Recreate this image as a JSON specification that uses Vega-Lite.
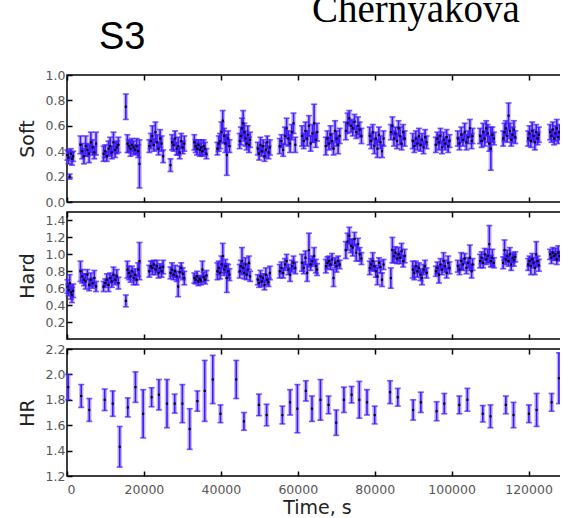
{
  "$schema": "https://vega.github.io/schema/vega-lite/v6.json",
  "background": "white",
  "padding": {"left": 17, "top": -9, "right": -8, "bottom": 0},
  "bounds": "flush",
  "title": {"text": "Chernyakova", "font": "Liberation Serif", "fontSize": 39, "fontWeight": "normal", "color": "#000", "anchor": "start", "frame": "group", "baseline": "alphabetic", "offset": -43, "dx": 245},
  "spacing": 10,
  "datasets": {
    "sh": [
      {"t":100,"s":0.37,"se":0.04,"h":0.62,"he":0.08},
      {"t":400,"s":0.35,"se":0.05,"h":0.58,"he":0.07},
      {"t":700,"s":0.20,"se":0.02,"h":0.66,"he":0.10},
      {"t":1000,"s":0.38,"se":0.04,"h":0.55,"he":0.08},
      {"t":1300,"s":0.34,"se":0.05,"h":0.52,"he":0.09},
      {"t":1600,"s":0.36,"se":0.04,"h":0.57,"he":0.08},
      {"t":3500,"s":0.45,"se":0.07,"h":0.80,"he":0.12},
      {"t":3950,"s":0.40,"se":0.06,"h":0.74,"he":0.08},
      {"t":4400,"s":0.36,"se":0.06,"h":0.70,"he":0.07},
      {"t":4850,"s":0.44,"se":0.08,"h":0.68,"he":0.09},
      {"t":5300,"s":0.41,"se":0.05,"h":0.76,"he":0.06},
      {"t":5750,"s":0.38,"se":0.07,"h":0.64,"he":0.07},
      {"t":6200,"s":0.47,"se":0.08,"h":0.70,"he":0.08},
      {"t":6650,"s":0.43,"se":0.06,"h":0.66,"he":0.06},
      {"t":7100,"s":0.39,"se":0.05,"h":0.72,"he":0.09},
      {"t":7550,"s":0.46,"se":0.09,"h":0.62,"he":0.06},
      {"t":9500,"s":0.38,"se":0.06,"h":0.62,"he":0.06},
      {"t":9930,"s":0.40,"se":0.05,"h":0.66,"he":0.05},
      {"t":10360,"s":0.36,"se":0.04,"h":0.70,"he":0.07},
      {"t":10790,"s":0.42,"se":0.06,"h":0.64,"he":0.08},
      {"t":11220,"s":0.44,"se":0.07,"h":0.72,"he":0.06},
      {"t":11650,"s":0.39,"se":0.05,"h":0.68,"he":0.07},
      {"t":12080,"s":0.47,"se":0.08,"h":0.76,"he":0.09},
      {"t":12510,"s":0.41,"se":0.06,"h":0.70,"he":0.06},
      {"t":12940,"s":0.43,"se":0.05,"h":0.74,"he":0.08},
      {"t":13370,"s":0.45,"se":0.06,"h":0.66,"he":0.07},
      {"t":15300,"s":0.75,"se":0.10,"h":0.45,"he":0.07},
      {"t":15700,"s":0.46,"se":0.07,"h":0.82,"he":0.10},
      {"t":16100,"s":0.44,"se":0.05,"h":0.78,"he":0.08},
      {"t":16500,"s":0.42,"se":0.06,"h":0.74,"he":0.07},
      {"t":16900,"s":0.45,"se":0.05,"h":0.80,"he":0.06},
      {"t":17300,"s":0.43,"se":0.05,"h":0.72,"he":0.08},
      {"t":17700,"s":0.41,"se":0.04,"h":0.76,"he":0.07},
      {"t":18100,"s":0.44,"se":0.06,"h":0.70,"he":0.06},
      {"t":18500,"s":0.40,"se":0.05,"h":0.82,"he":0.08},
      {"t":18850,"s":0.30,"se":0.19,"h":0.92,"he":0.22},
      {"t":21400,"s":0.44,"se":0.05,"h":0.80,"he":0.07},
      {"t":21800,"s":0.48,"se":0.06,"h":0.86,"he":0.06},
      {"t":22200,"s":0.52,"se":0.08,"h":0.84,"he":0.08},
      {"t":22600,"s":0.45,"se":0.05,"h":0.88,"he":0.05},
      {"t":23000,"s":0.55,"se":0.08,"h":0.82,"he":0.06},
      {"t":23400,"s":0.47,"se":0.06,"h":0.86,"he":0.07},
      {"t":23800,"s":0.42,"se":0.05,"h":0.78,"he":0.06},
      {"t":24200,"s":0.50,"se":0.07,"h":0.84,"he":0.05},
      {"t":24600,"s":0.46,"se":0.06,"h":0.80,"he":0.07},
      {"t":25000,"s":0.36,"se":0.05,"h":0.85,"he":0.08},
      {"t":26900,"s":0.29,"se":0.05,"h":0.78,"he":0.07},
      {"t":27300,"s":0.47,"se":0.06,"h":0.82,"he":0.08},
      {"t":27700,"s":0.45,"se":0.05,"h":0.76,"he":0.06},
      {"t":28100,"s":0.50,"se":0.06,"h":0.80,"he":0.07},
      {"t":28500,"s":0.42,"se":0.05,"h":0.74,"he":0.06},
      {"t":28900,"s":0.44,"se":0.07,"h":0.62,"he":0.12},
      {"t":29300,"s":0.39,"se":0.05,"h":0.79,"he":0.07},
      {"t":29700,"s":0.48,"se":0.06,"h":0.84,"he":0.06},
      {"t":30100,"s":0.43,"se":0.05,"h":0.77,"he":0.07},
      {"t":30500,"s":0.46,"se":0.06,"h":0.72,"he":0.08},
      {"t":33100,"s":0.47,"se":0.06,"h":0.72,"he":0.06},
      {"t":33450,"s":0.44,"se":0.05,"h":0.70,"he":0.05},
      {"t":33800,"s":0.42,"se":0.05,"h":0.74,"he":0.06},
      {"t":34150,"s":0.45,"se":0.04,"h":0.68,"he":0.05},
      {"t":34500,"s":0.41,"se":0.05,"h":0.71,"he":0.04},
      {"t":34850,"s":0.43,"se":0.06,"h":0.69,"he":0.05},
      {"t":35200,"s":0.40,"se":0.04,"h":0.82,"he":0.10},
      {"t":35550,"s":0.44,"se":0.05,"h":0.73,"he":0.06},
      {"t":35900,"s":0.42,"se":0.05,"h":0.70,"he":0.05},
      {"t":36250,"s":0.38,"se":0.04,"h":0.75,"he":0.06},
      {"t":39100,"s":0.42,"se":0.05,"h":0.80,"he":0.10},
      {"t":39450,"s":0.46,"se":0.06,"h":0.84,"he":0.08},
      {"t":39800,"s":0.48,"se":0.06,"h":0.78,"he":0.07},
      {"t":40150,"s":0.55,"se":0.08,"h":0.88,"he":0.10},
      {"t":40500,"s":0.64,"se":0.08,"h":0.98,"he":0.15},
      {"t":40850,"s":0.52,"se":0.06,"h":0.82,"he":0.07},
      {"t":41200,"s":0.46,"se":0.07,"h":0.86,"he":0.08},
      {"t":41550,"s":0.37,"se":0.16,"h":0.72,"he":0.17},
      {"t":41900,"s":0.50,"se":0.06,"h":0.80,"he":0.08},
      {"t":42250,"s":0.44,"se":0.05,"h":0.76,"he":0.07},
      {"t":44900,"s":0.48,"se":0.06,"h":0.80,"he":0.08},
      {"t":45200,"s":0.52,"se":0.07,"h":0.86,"he":0.07},
      {"t":45500,"s":0.58,"se":0.08,"h":0.92,"he":0.16},
      {"t":45800,"s":0.62,"se":0.10,"h":0.84,"he":0.06},
      {"t":46100,"s":0.55,"se":0.07,"h":0.78,"he":0.07},
      {"t":46400,"s":0.50,"se":0.06,"h":0.88,"he":0.08},
      {"t":46700,"s":0.46,"se":0.05,"h":0.76,"he":0.06},
      {"t":47000,"s":0.53,"se":0.07,"h":0.82,"he":0.07},
      {"t":47300,"s":0.45,"se":0.06,"h":0.90,"he":0.08},
      {"t":47600,"s":0.49,"se":0.06,"h":0.74,"he":0.06},
      {"t":49600,"s":0.42,"se":0.05,"h":0.70,"he":0.06},
      {"t":49950,"s":0.38,"se":0.05,"h":0.66,"he":0.05},
      {"t":50300,"s":0.45,"se":0.06,"h":0.74,"he":0.07},
      {"t":50650,"s":0.40,"se":0.04,"h":0.68,"he":0.06},
      {"t":51000,"s":0.44,"se":0.05,"h":0.72,"he":0.05},
      {"t":51350,"s":0.36,"se":0.04,"h":0.64,"he":0.06},
      {"t":51700,"s":0.41,"se":0.06,"h":0.76,"he":0.08},
      {"t":52050,"s":0.47,"se":0.05,"h":0.70,"he":0.06},
      {"t":52400,"s":0.39,"se":0.05,"h":0.67,"he":0.05},
      {"t":52750,"s":0.43,"se":0.06,"h":0.78,"he":0.08},
      {"t":55300,"s":0.44,"se":0.06,"h":0.80,"he":0.08},
      {"t":55750,"s":0.48,"se":0.05,"h":0.84,"he":0.07},
      {"t":56200,"s":0.41,"se":0.05,"h":0.78,"he":0.06},
      {"t":56650,"s":0.52,"se":0.07,"h":0.88,"he":0.07},
      {"t":57100,"s":0.58,"se":0.08,"h":0.92,"he":0.08},
      {"t":57550,"s":0.50,"se":0.06,"h":0.82,"he":0.06},
      {"t":58000,"s":0.46,"se":0.07,"h":0.76,"he":0.08},
      {"t":58450,"s":0.55,"se":0.06,"h":0.86,"he":0.07},
      {"t":58900,"s":0.62,"se":0.08,"h":0.90,"he":0.08},
      {"t":59350,"s":0.45,"se":0.06,"h":0.84,"he":0.07},
      {"t":61100,"s":0.52,"se":0.08,"h":0.90,"he":0.10},
      {"t":61550,"s":0.48,"se":0.06,"h":0.84,"he":0.07},
      {"t":62000,"s":0.56,"se":0.07,"h":0.96,"he":0.08},
      {"t":62450,"s":0.50,"se":0.06,"h":0.78,"he":0.10},
      {"t":62900,"s":0.60,"se":0.08,"h":1.05,"he":0.20},
      {"t":63350,"s":0.46,"se":0.06,"h":0.88,"he":0.07},
      {"t":63800,"s":0.54,"se":0.07,"h":0.92,"he":0.06},
      {"t":64250,"s":0.62,"se":0.15,"h":0.98,"he":0.10},
      {"t":64700,"s":0.49,"se":0.06,"h":0.86,"he":0.08},
      {"t":65000,"s":0.55,"se":0.07,"h":0.82,"he":0.07},
      {"t":67300,"s":0.44,"se":0.07,"h":0.86,"he":0.08},
      {"t":67700,"s":0.50,"se":0.06,"h":0.90,"he":0.07},
      {"t":68100,"s":0.46,"se":0.05,"h":0.92,"he":0.06},
      {"t":68500,"s":0.53,"se":0.07,"h":0.88,"he":0.06},
      {"t":68900,"s":0.48,"se":0.06,"h":0.94,"he":0.07},
      {"t":69300,"s":0.42,"se":0.05,"h":0.72,"he":0.10},
      {"t":69700,"s":0.56,"se":0.08,"h":0.90,"he":0.06},
      {"t":70100,"s":0.50,"se":0.06,"h":0.86,"he":0.07},
      {"t":70500,"s":0.45,"se":0.07,"h":0.92,"he":0.06},
      {"t":70900,"s":0.52,"se":0.06,"h":0.88,"he":0.05},
      {"t":72500,"s":0.56,"se":0.07,"h":1.05,"he":0.10},
      {"t":72950,"s":0.62,"se":0.08,"h":1.15,"he":0.10},
      {"t":73400,"s":0.66,"se":0.06,"h":1.22,"he":0.10},
      {"t":73850,"s":0.60,"se":0.05,"h":1.10,"he":0.08},
      {"t":74300,"s":0.58,"se":0.06,"h":1.08,"he":0.10},
      {"t":74750,"s":0.63,"se":0.06,"h":1.18,"he":0.08},
      {"t":75200,"s":0.55,"se":0.05,"h":1.02,"he":0.10},
      {"t":75650,"s":0.60,"se":0.07,"h":1.12,"he":0.07},
      {"t":76100,"s":0.57,"se":0.06,"h":1.00,"he":0.08},
      {"t":76550,"s":0.52,"se":0.06,"h":0.95,"he":0.07},
      {"t":78700,"s":0.52,"se":0.07,"h":0.84,"he":0.08},
      {"t":79100,"s":0.48,"se":0.06,"h":0.88,"he":0.07},
      {"t":79500,"s":0.55,"se":0.06,"h":0.92,"he":0.10},
      {"t":79900,"s":0.44,"se":0.06,"h":0.86,"he":0.06},
      {"t":80300,"s":0.50,"se":0.05,"h":0.80,"he":0.07},
      {"t":80700,"s":0.42,"se":0.07,"h":0.74,"he":0.10},
      {"t":81100,"s":0.53,"se":0.06,"h":0.90,"he":0.06},
      {"t":81500,"s":0.47,"se":0.05,"h":0.85,"he":0.07},
      {"t":81900,"s":0.40,"se":0.05,"h":0.70,"he":0.08},
      {"t":82300,"s":0.50,"se":0.06,"h":0.88,"he":0.06},
      {"t":84200,"s":0.55,"se":0.06,"h":0.72,"he":0.12},
      {"t":84600,"s":0.60,"se":0.07,"h":1.05,"he":0.15},
      {"t":85000,"s":0.50,"se":0.06,"h":0.98,"he":0.08},
      {"t":85400,"s":0.54,"se":0.05,"h":1.02,"he":0.07},
      {"t":85800,"s":0.48,"se":0.06,"h":0.95,"he":0.06},
      {"t":86200,"s":0.58,"se":0.06,"h":1.00,"he":0.08},
      {"t":86600,"s":0.52,"se":0.07,"h":0.96,"he":0.07},
      {"t":87000,"s":0.46,"se":0.05,"h":1.04,"he":0.09},
      {"t":87400,"s":0.55,"se":0.06,"h":0.92,"he":0.07},
      {"t":87800,"s":0.50,"se":0.06,"h":0.98,"he":0.08},
      {"t":89900,"s":0.48,"se":0.06,"h":0.82,"he":0.10},
      {"t":90300,"s":0.44,"se":0.05,"h":0.78,"he":0.08},
      {"t":90700,"s":0.50,"se":0.06,"h":0.86,"he":0.06},
      {"t":91100,"s":0.46,"se":0.05,"h":0.80,"he":0.07},
      {"t":91500,"s":0.52,"se":0.06,"h":0.84,"he":0.06},
      {"t":91900,"s":0.45,"se":0.05,"h":0.76,"he":0.07},
      {"t":92300,"s":0.49,"se":0.05,"h":0.72,"he":0.08},
      {"t":92700,"s":0.43,"se":0.05,"h":0.82,"he":0.06},
      {"t":93100,"s":0.51,"se":0.06,"h":0.86,"he":0.07},
      {"t":93500,"s":0.47,"se":0.05,"h":0.78,"he":0.06},
      {"t":95900,"s":0.45,"se":0.06,"h":0.80,"he":0.06},
      {"t":96300,"s":0.50,"se":0.05,"h":0.84,"he":0.07},
      {"t":96700,"s":0.47,"se":0.06,"h":0.76,"he":0.10},
      {"t":97100,"s":0.52,"se":0.06,"h":0.88,"he":0.07},
      {"t":97500,"s":0.43,"se":0.05,"h":0.82,"he":0.06},
      {"t":97900,"s":0.49,"se":0.06,"h":0.92,"he":0.10},
      {"t":98300,"s":0.46,"se":0.05,"h":0.86,"he":0.07},
      {"t":98700,"s":0.51,"se":0.06,"h":0.78,"he":0.06},
      {"t":99100,"s":0.44,"se":0.05,"h":0.90,"he":0.08},
      {"t":99450,"s":0.48,"se":0.05,"h":0.84,"he":0.07},
      {"t":101600,"s":0.50,"se":0.06,"h":0.86,"he":0.07},
      {"t":102050,"s":0.46,"se":0.05,"h":0.82,"he":0.06},
      {"t":102500,"s":0.53,"se":0.06,"h":0.92,"he":0.10},
      {"t":102950,"s":0.49,"se":0.05,"h":0.88,"he":0.07},
      {"t":103400,"s":0.55,"se":0.07,"h":0.95,"he":0.06},
      {"t":103850,"s":0.47,"se":0.06,"h":0.84,"he":0.07},
      {"t":104300,"s":0.51,"se":0.05,"h":0.90,"he":0.06},
      {"t":104750,"s":0.58,"se":0.07,"h":0.96,"he":0.15},
      {"t":105200,"s":0.48,"se":0.06,"h":0.80,"he":0.08},
      {"t":105450,"s":0.52,"se":0.06,"h":0.88,"he":0.07},
      {"t":107400,"s":0.52,"se":0.06,"h":0.92,"he":0.08},
      {"t":107800,"s":0.48,"se":0.05,"h":0.96,"he":0.07},
      {"t":108200,"s":0.55,"se":0.07,"h":0.90,"he":0.06},
      {"t":108600,"s":0.50,"se":0.06,"h":1.00,"he":0.07},
      {"t":109000,"s":0.58,"se":0.06,"h":0.94,"he":0.06},
      {"t":109400,"s":0.54,"se":0.07,"h":0.98,"he":0.08},
      {"t":109800,"s":0.46,"se":0.06,"h":1.12,"he":0.22},
      {"t":110200,"s":0.42,"se":0.17,"h":0.92,"he":0.07},
      {"t":110600,"s":0.53,"se":0.06,"h":0.96,"he":0.10},
      {"t":111000,"s":0.50,"se":0.05,"h":0.90,"he":0.06},
      {"t":113400,"s":0.50,"se":0.06,"h":0.90,"he":0.07},
      {"t":113750,"s":0.55,"se":0.07,"h":1.05,"he":0.12},
      {"t":114100,"s":0.58,"se":0.06,"h":0.94,"he":0.06},
      {"t":114450,"s":0.52,"se":0.05,"h":0.98,"he":0.07},
      {"t":114800,"s":0.68,"se":0.10,"h":0.92,"he":0.06},
      {"t":115150,"s":0.56,"se":0.06,"h":1.00,"he":0.08},
      {"t":115500,"s":0.49,"se":0.05,"h":0.88,"he":0.07},
      {"t":115850,"s":0.53,"se":0.06,"h":0.96,"he":0.06},
      {"t":116200,"s":0.57,"se":0.07,"h":0.93,"he":0.07},
      {"t":116550,"s":0.51,"se":0.05,"h":0.97,"he":0.06},
      {"t":119900,"s":0.50,"se":0.06,"h":0.88,"he":0.07},
      {"t":120250,"s":0.54,"se":0.06,"h":0.92,"he":0.06},
      {"t":120600,"s":0.48,"se":0.05,"h":0.86,"he":0.10},
      {"t":120950,"s":0.56,"se":0.07,"h":0.94,"he":0.07},
      {"t":121300,"s":0.52,"se":0.05,"h":0.90,"he":0.06},
      {"t":121650,"s":0.47,"se":0.06,"h":0.84,"he":0.08},
      {"t":122000,"s":0.55,"se":0.06,"h":1.00,"he":0.15},
      {"t":122350,"s":0.50,"se":0.05,"h":0.92,"he":0.06},
      {"t":122700,"s":0.53,"se":0.06,"h":0.87,"he":0.07},
      {"t":125600,"s":0.55,"se":0.06,"h":1.00,"he":0.06},
      {"t":125950,"s":0.52,"se":0.05,"h":0.96,"he":0.07},
      {"t":126300,"s":0.57,"se":0.06,"h":1.02,"he":0.06},
      {"t":126650,"s":0.50,"se":0.05,"h":0.98,"he":0.05},
      {"t":127000,"s":0.54,"se":0.06,"h":1.00,"he":0.07},
      {"t":127350,"s":0.58,"se":0.07,"h":0.94,"he":0.06},
      {"t":127700,"s":0.51,"se":0.05,"h":1.02,"he":0.08},
      {"t":128050,"s":0.55,"se":0.06,"h":0.98,"he":0.06}
    ],
    "hr": [
      {"t":300,"r":1.90,"e":0.10},
      {"t":3700,"r":1.83,"e":0.09},
      {"t":5800,"r":1.72,"e":0.09},
      {"t":9800,"r":1.80,"e":0.085},
      {"t":11900,"r":1.77,"e":0.10},
      {"t":13700,"r":1.43,"e":0.16},
      {"t":15800,"r":1.74,"e":0.075},
      {"t":17800,"r":1.90,"e":0.12},
      {"t":19800,"r":1.69,"e":0.19},
      {"t":22000,"r":1.82,"e":0.075},
      {"t":23900,"r":1.84,"e":0.12},
      {"t":26000,"r":1.77,"e":0.19},
      {"t":28000,"r":1.77,"e":0.075},
      {"t":30000,"r":1.77,"e":0.15},
      {"t":31900,"r":1.57,"e":0.16},
      {"t":33900,"r":1.79,"e":0.08},
      {"t":35800,"r":1.87,"e":0.24},
      {"t":37900,"r":1.96,"e":0.19},
      {"t":39900,"r":1.69,"e":0.07},
      {"t":44000,"r":1.96,"e":0.15},
      {"t":46000,"r":1.63,"e":0.07},
      {"t":49900,"r":1.76,"e":0.085},
      {"t":51900,"r":1.68,"e":0.085},
      {"t":56000,"r":1.68,"e":0.07},
      {"t":58000,"r":1.78,"e":0.10},
      {"t":59900,"r":1.73,"e":0.19},
      {"t":62100,"r":1.87,"e":0.08},
      {"t":63700,"r":1.73,"e":0.10},
      {"t":65900,"r":1.80,"e":0.16},
      {"t":68000,"r":1.76,"e":0.07},
      {"t":70000,"r":1.62,"e":0.10},
      {"t":72000,"r":1.80,"e":0.10},
      {"t":74000,"r":1.84,"e":0.065},
      {"t":76000,"r":1.80,"e":0.145},
      {"t":78000,"r":1.78,"e":0.10},
      {"t":80000,"r":1.68,"e":0.07},
      {"t":84000,"r":1.86,"e":0.09},
      {"t":86000,"r":1.82,"e":0.07},
      {"t":90000,"r":1.72,"e":0.08},
      {"t":92000,"r":1.78,"e":0.08},
      {"t":96100,"r":1.71,"e":0.075},
      {"t":98100,"r":1.77,"e":0.08},
      {"t":102000,"r":1.76,"e":0.07},
      {"t":104100,"r":1.80,"e":0.09},
      {"t":108100,"r":1.69,"e":0.065},
      {"t":110100,"r":1.67,"e":0.09},
      {"t":114100,"r":1.76,"e":0.07},
      {"t":116100,"r":1.68,"e":0.10},
      {"t":120100,"r":1.69,"e":0.07},
      {"t":122100,"r":1.72,"e":0.13},
      {"t":126000,"r":1.78,"e":0.07},
      {"t":127900,"r":1.97,"e":0.20}
    ]
  },
  "vconcat": [
    {
      "data": {"name": "sh"},
      "width": 500,
      "height": 127,
      "title": {"text": "S3", "font": "Liberation Sans", "fontSize": 38, "fontWeight": "normal", "color": "#000", "anchor": "start", "frame": "group", "baseline": "alphabetic", "offset": -18, "dx": 32},
      "layer": [
        {
          "mark": {"type": "errorbar", "color": "#8f74ff", "opacity": 0.55, "thickness": 4.5, "ticks": false},
          "encoding": {
            "x": {"field": "t", "type": "quantitative", "scale": {"domain": [0, 130000], "nice": false}, "axis": {"orient": "bottom", "values": [0, 20000, 40000, 60000, 80000, 100000, 120000], "labels": false, "title": null}},
            "y": {"field": "s", "type": "quantitative", "title": "Soft", "scale": {"domain": [0, 1], "nice": false}, "axis": {"title": "Soft", "values": [0, 0.2, 0.4, 0.6, 0.8, 1.0], "format": ".1f", "labelOverlap": false, "labelSeparation": 0}},
            "yError": {"field": "se"}
          }
        },
        {
          "mark": {"type": "errorbar", "color": "#4018ff", "thickness": 1.6, "ticks": {"size": 6}},
          "encoding": {
            "x": {"field": "t", "type": "quantitative", "axis": {"orient": "top", "values": [0, 20000, 40000, 60000, 80000, 100000, 120000], "labels": false, "title": null}},
            "y": {"field": "s", "type": "quantitative", "title": "Soft", "axis": {"title": "Soft", "values": [0, 0.2, 0.4, 0.6, 0.8, 1.0], "format": ".1f", "labelOverlap": false, "labelSeparation": 0}},
            "yError": {"field": "se"}
          }
        },
        {
          "mark": {"type": "square", "size": 5, "color": "#000", "opacity": 1},
          "encoding": {
            "x": {"field": "t", "type": "quantitative", "axis": null},
            "y": {"field": "s", "type": "quantitative", "title": "Soft", "axis": {"title": "Soft", "values": [0, 0.2, 0.4, 0.6, 0.8, 1.0], "format": ".1f", "labelOverlap": false, "labelSeparation": 0}}
          }
        }
      ],
      "resolve": {"axis": {"x": "independent"}}
    },
    {
      "data": {"name": "sh"},
      "width": 500,
      "height": 127,
      "layer": [
        {
          "mark": {"type": "errorbar", "color": "#8f74ff", "opacity": 0.55, "thickness": 4.5, "ticks": false},
          "encoding": {
            "x": {"field": "t", "type": "quantitative", "scale": {"domain": [0, 130000], "nice": false}, "axis": {"orient": "bottom", "values": [0, 20000, 40000, 60000, 80000, 100000, 120000], "labels": false, "title": null}},
            "y": {"field": "h", "type": "quantitative", "title": "Hard", "scale": {"domain": [0, 1.5], "nice": false}, "axis": {"title": "Hard", "values": [0.2, 0.4, 0.6, 0.8, 1.0, 1.2, 1.4], "format": ".1f", "labelOverlap": false, "labelSeparation": 0}},
            "yError": {"field": "he"}
          }
        },
        {
          "mark": {"type": "errorbar", "color": "#4018ff", "thickness": 1.6, "ticks": {"size": 6}},
          "encoding": {
            "x": {"field": "t", "type": "quantitative", "axis": {"orient": "top", "values": [0, 20000, 40000, 60000, 80000, 100000, 120000], "labels": false, "title": null}},
            "y": {"field": "h", "type": "quantitative", "title": "Hard", "axis": {"title": "Hard", "values": [0.2, 0.4, 0.6, 0.8, 1.0, 1.2, 1.4], "format": ".1f", "labelOverlap": false, "labelSeparation": 0}},
            "yError": {"field": "he"}
          }
        },
        {
          "mark": {"type": "square", "size": 5, "color": "#000", "opacity": 1},
          "encoding": {
            "x": {"field": "t", "type": "quantitative", "axis": null},
            "y": {"field": "h", "type": "quantitative", "title": "Hard", "axis": {"title": "Hard", "values": [0.2, 0.4, 0.6, 0.8, 1.0, 1.2, 1.4], "format": ".1f", "labelOverlap": false, "labelSeparation": 0}}
          }
        }
      ],
      "resolve": {"axis": {"x": "independent"}}
    },
    {
      "data": {"name": "hr"},
      "width": 500,
      "height": 127,
      "layer": [
        {
          "mark": {"type": "errorbar", "color": "#8f74ff", "opacity": 0.55, "thickness": 4.5, "ticks": false},
          "encoding": {
            "x": {"field": "t", "type": "quantitative", "scale": {"domain": [0, 130000], "nice": false}, "axis": {"orient": "bottom", "values": [0, 20000, 40000, 60000, 80000, 100000, 120000], "format": "d", "title": "Time, s", "labelPadding": 12, "titlePadding": 3}},
            "y": {"field": "r", "type": "quantitative", "title": "HR", "scale": {"domain": [1.2, 2.2], "nice": false, "zero": false}, "axis": {"title": "HR", "values": [1.2, 1.4, 1.6, 1.8, 2.0, 2.2], "format": ".1f", "labelOverlap": false, "labelSeparation": 0}},
            "yError": {"field": "e"}
          }
        },
        {
          "mark": {"type": "errorbar", "color": "#4018ff", "thickness": 1.6, "ticks": {"size": 6}},
          "encoding": {
            "x": {"field": "t", "type": "quantitative", "axis": {"orient": "top", "values": [0, 20000, 40000, 60000, 80000, 100000, 120000], "labels": false, "title": null}},
            "y": {"field": "r", "type": "quantitative", "title": "HR", "axis": {"title": "HR", "values": [1.2, 1.4, 1.6, 1.8, 2.0, 2.2], "format": ".1f", "labelOverlap": false, "labelSeparation": 0}},
            "yError": {"field": "e"}
          }
        },
        {
          "mark": {"type": "square", "size": 5, "color": "#000", "opacity": 1},
          "encoding": {
            "x": {"field": "t", "type": "quantitative", "axis": null},
            "y": {"field": "r", "type": "quantitative", "title": "HR", "axis": {"title": "HR", "values": [1.2, 1.4, 1.6, 1.8, 2.0, 2.2], "format": ".1f", "labelOverlap": false, "labelSeparation": 0}}
          }
        }
      ],
      "resolve": {"axis": {"x": "independent"}}
    }
  ],
  "config": {
    "view": {"stroke": "#000", "strokeWidth": 1.5},
    "axis": {
      "domain": false,
      "grid": false,
      "tickColor": "#000",
      "tickSize": -5,
      "tickWidth": 1.5,
      "labelOverlap": false,
      "labelFont": "DejaVu Sans",
      "labelFontSize": 12.5,
      "labelColor": "#555",
      "labelPadding": 7,
      "titleFont": "DejaVu Sans",
      "titleFontSize": 19,
      "titleFontWeight": "normal",
      "titleColor": "#222",
      "titlePadding": 6
    },
    "axisY": {"titlePadding": 8}
  }
}
